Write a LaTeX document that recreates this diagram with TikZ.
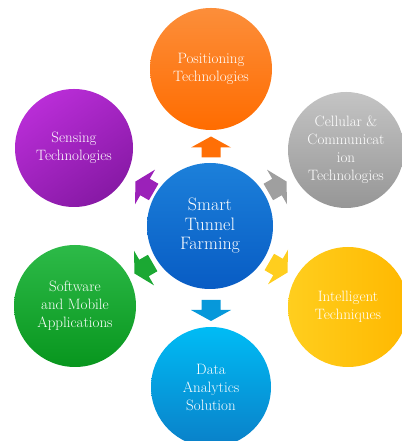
\documentclass[tikz,border=0pt]{standalone}
\begin{document}
\begin{tikzpicture}[x=1pt,y=1pt,
  circ/.style={circle, draw=none, inner sep=0pt, align=center, text=white,
    font=\fontsize{15}{18}\selectfont}
]
\definecolor{orA}{RGB}{252,142,58}\definecolor{orB}{RGB}{255,108,0}
\definecolor{grA}{RGB}{196,196,196}\definecolor{grB}{RGB}{150,150,150}
\definecolor{puA}{RGB}{185,45,215}\definecolor{puB}{RGB}{135,25,165}
\definecolor{ceA}{RGB}{28,128,218}\definecolor{ceB}{RGB}{8,92,196}
\definecolor{gnA}{RGB}{45,186,72}\definecolor{gnB}{RGB}{8,150,30}
\definecolor{yeA}{RGB}{255,206,30}\definecolor{yeB}{RGB}{255,184,0}
\definecolor{blA}{RGB}{0,188,245}\definecolor{blB}{RGB}{10,128,200}
\useasboundingbox (0,0) rectangle (401,441);
% circles
\node[circ, minimum size=126pt, top color=ceA, bottom color=ceB,
  font=\fontsize{18}{19.5}\selectfont] (center) at (210,215) {Smart\\Tunnel\\Farming};
\node[circ, minimum size=122pt, top color=orA, bottom color=orB] (pos) at (211,372) {Positioning\\Technologies};
\node[circ, minimum size=116pt, top color=grA, bottom color=grB] (cell) at (346,291) {Cellular \&\\Communicat\\ion\\Technologies};
\node[circ, minimum size=118pt, shading=axis, top color=puA, bottom color=puB, shading angle=35] (sens) at (74,293) {Sensing\\Technologies};
\node[circ, minimum size=122pt, top color=gnA, bottom color=gnB] (soft) at (75,135) {Software\\and Mobile\\Applications};
\node[circ, minimum size=120pt, left color=yeA, right color=yeB] (intel) at (348,134) {Intelligent\\Techniques};
\node[circ, minimum size=120pt, top color=blA, bottom color=blB] (data) at (211,54) {Data\\Analytics\\Solution};
% block arrows
\newcommand{\blockarrow}[3]{%
  \begin{scope}[shift={#1}, rotate=#2]
    \fill[#3] (-10,-9.5) -- (0,-9.5) -- (0,-20) -- (11,0) -- (0,20) -- (0,9.5) -- (-10,9.5) -- cycle;
  \end{scope}}
\blockarrow{(211,293.5)}{90}{orB!90!orA}
\blockarrow{(211,131)}{270}{blA!40!blB}
\blockarrow{(277,254)}{30}{grB!80!grA}
\blockarrow{(278,174)}{-30}{yeA}
\blockarrow{(144,173)}{210}{gnA!50!gnB}
\blockarrow{(145,254)}{150}{puA!40!puB}
\end{tikzpicture}
\end{document}
